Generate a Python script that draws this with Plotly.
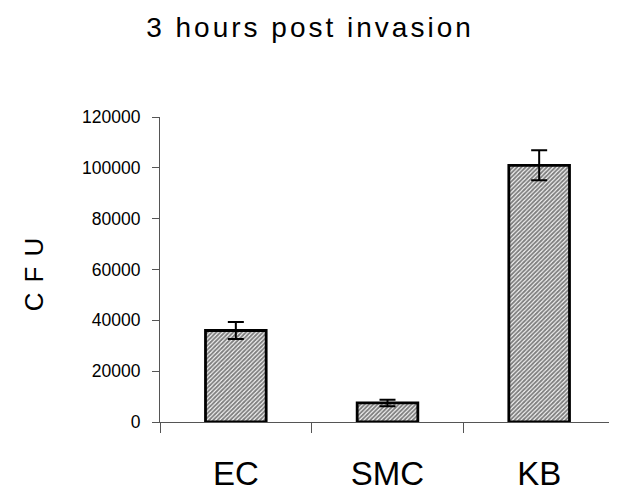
import plotly.graph_objects as go

# values
cells = ['EC', 'SMC', 'KB']
cfu = [36000, 7500, 101000]
cfu_err = [3300, 1300, 5900]
y_ticks = [0, 20000, 40000, 60000, 80000, 100000, 120000]

FONT = 'Liberation Sans, Arial'
AXIS = '#555555'

fig = go.Figure()

fig.add_bar(
    x=cells, y=cfu, width=0.4,
    error_y=dict(type='data', array=cfu_err, color='black', thickness=2, width=8),
    marker=dict(color='white', line=dict(color='black', width=2.8),
                pattern=dict(shape='/', fgcolor='black', bgcolor='white',
                             size=3, solidity=0.65)),
    showlegend=False,
)

# the page body adds 8px around the plot, so positions are shifted by that
fig.update_layout(
    width=617, height=494,
    margin=dict(l=152, r=10, t=109, b=80),
    paper_bgcolor='white', plot_bgcolor='white',
    font=dict(family=FONT, color='black'),
    title=dict(text='<span style="letter-spacing:3px">3 hours post invasion</span>',
               font=dict(size=28),
               x=302 / 617, xref='container', xanchor='center',
               y=1 - 19 / 494, yref='container', yanchor='middle'),
    xaxis=dict(type='category', range=[-0.5, 2.5], showline=True,
               linecolor=AXIS, linewidth=1, showgrid=False,
               ticks='outside', tickson='boundaries', ticklen=10, tickcolor=AXIS,
               tickfont=dict(size=33), ticklabelstandoff=22, automargin=False),
    yaxis=dict(range=[0, 120000], tickvals=y_ticks, tickformat='d',
               ticks='outside', ticklen=7, tickcolor=AXIS,
               showline=True, linecolor=AXIS, linewidth=1,
               showgrid=False, zeroline=False, automargin=False,
               tickfont=dict(size=17.5), ticklabelstandoff=8,
               title=dict(text='<span style="letter-spacing:10px">CFU</span>',
                          font=dict(size=26), standoff=30)),
)

fig.write_html('out.html')
